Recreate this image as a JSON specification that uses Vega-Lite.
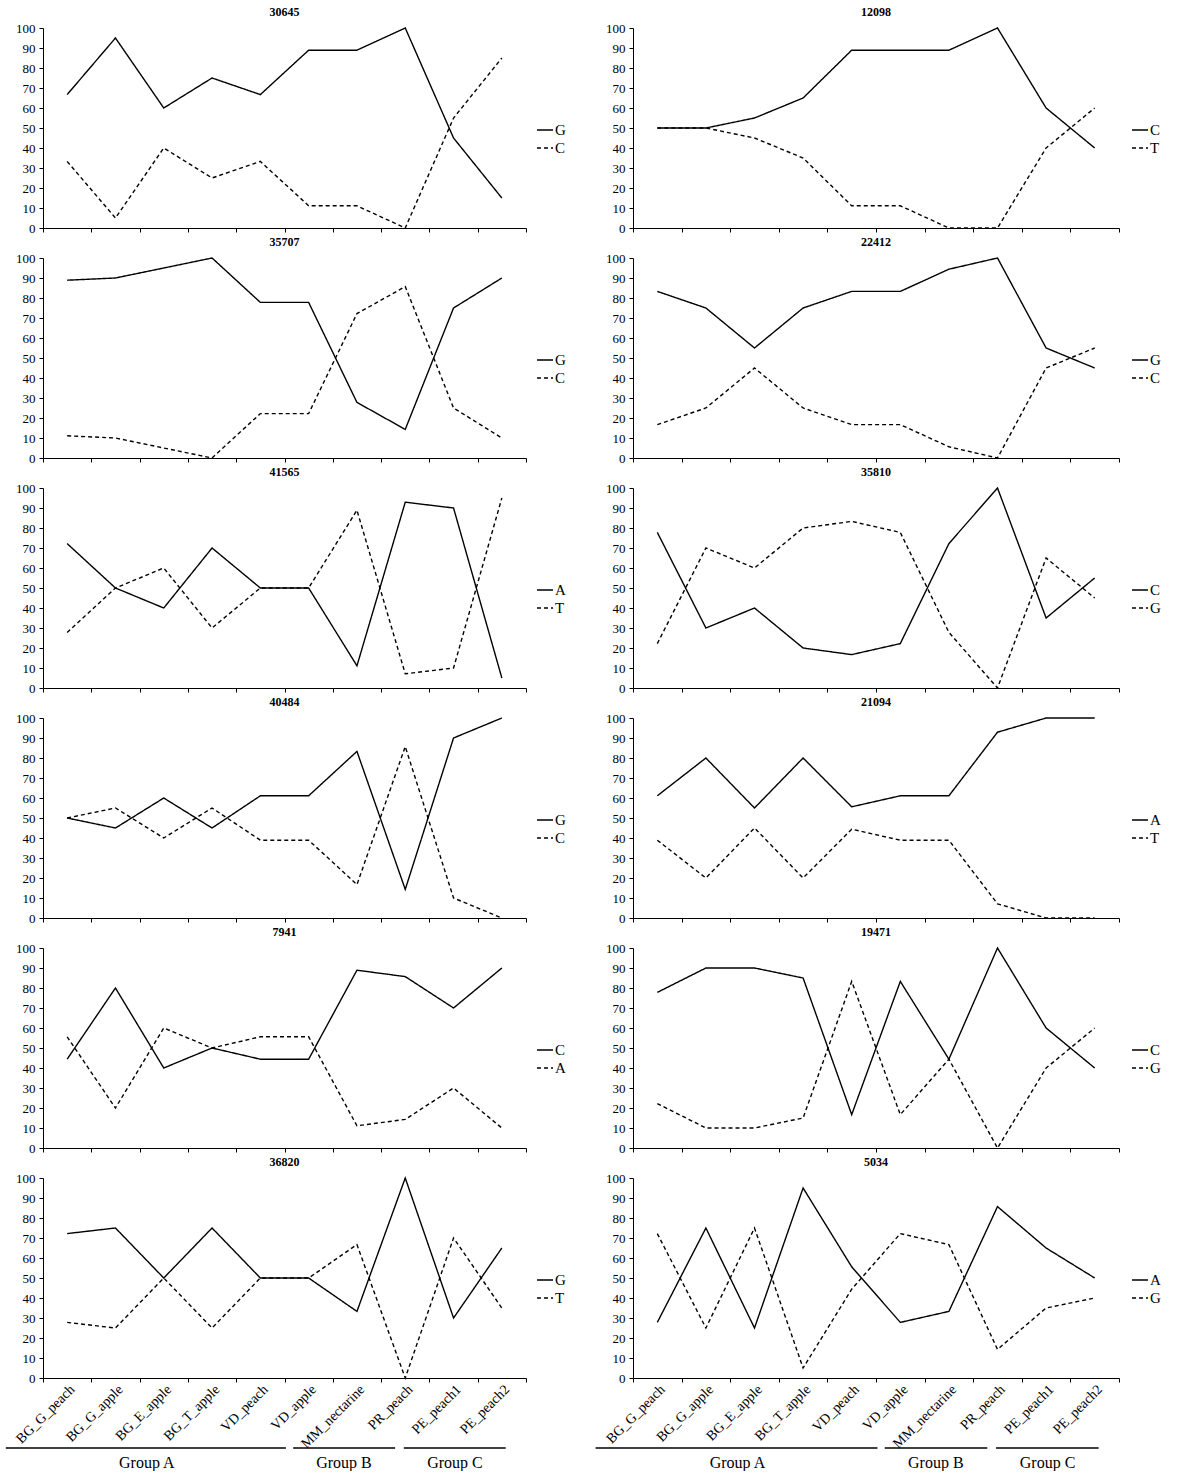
{
"$schema": "https://vega.github.io/schema/vega-lite/v6.json",
"background": "white",
"padding": {"left": 5, "top": 6, "right": 0, "bottom": 0},
"columns": 2,
"spacing": {"row": 1, "column": 28},
"config": {
  "view": {"stroke": null},
  "title": {"font": "Liberation Serif", "fontSize": 12, "fontWeight": "bold", "color": "black", "offset": 3},
  "axis": {"labelFont": "Liberation Serif", "labelFontSize": 13, "labelColor": "black", "domainColor": "black", "tickColor": "black", "tickSize": 4, "grid": false, "title": null, "domainWidth": 1, "tickWidth": 1},
  "axisY": {"labelPadding": 4},
  "legend": {"orient": "none", "legendY": 93, "title": null, "symbolType": "stroke", "symbolSize": 256, "symbolStrokeWidth": 1.4, "symbolStrokeColor": "black", "labelFont": "Liberation Serif", "labelFontSize": 15, "labelColor": "black", "labelOffset": 1, "rowPadding": 1, "padding": 0}
},
"resolve": {"scale": {"strokeDash": "independent"}, "legend": {"strokeDash": "independent"}},
"concat": [
{"title": "30645", "width": 483, "height": 200, "data": {"name": "m30645"}, "mark": {"type": "line", "color": "black", "strokeWidth": 1.4},
 "encoding": {"x": {"field": "sample", "type": "nominal", "sort": null, "scale": {"type": "band", "paddingInner": 0, "paddingOuter": 0}, "axis": {"labels": false, "tickBand": "extent"}},
  "y": {"field": "pct", "type": "quantitative", "scale": {"domain": [0, 100]}, "axis": {"values": [0,10,20,30,40,50,60,70,80,90,100]}},
  "strokeDash": {"field": "allele", "type": "nominal", "scale": {"domain": ["G", "C"], "range": [[1, 0], [4, 3]]}, "legend": {"legendX": 493}}}},
{"title": "12098", "width": 486, "height": 200, "data": {"name": "m12098"}, "mark": {"type": "line", "color": "black", "strokeWidth": 1.4},
 "encoding": {"x": {"field": "sample", "type": "nominal", "sort": null, "scale": {"type": "band", "paddingInner": 0, "paddingOuter": 0}, "axis": {"labels": false, "tickBand": "extent"}},
  "y": {"field": "pct", "type": "quantitative", "scale": {"domain": [0, 100]}, "axis": {"values": [0,10,20,30,40,50,60,70,80,90,100]}},
  "strokeDash": {"field": "allele", "type": "nominal", "scale": {"domain": ["C", "T"], "range": [[1, 0], [4, 3]]}, "legend": {"legendX": 498}}}},
{"title": "35707", "width": 483, "height": 200, "data": {"name": "m35707"}, "mark": {"type": "line", "color": "black", "strokeWidth": 1.4},
 "encoding": {"x": {"field": "sample", "type": "nominal", "sort": null, "scale": {"type": "band", "paddingInner": 0, "paddingOuter": 0}, "axis": {"labels": false, "tickBand": "extent"}},
  "y": {"field": "pct", "type": "quantitative", "scale": {"domain": [0, 100]}, "axis": {"values": [0,10,20,30,40,50,60,70,80,90,100]}},
  "strokeDash": {"field": "allele", "type": "nominal", "scale": {"domain": ["G", "C"], "range": [[1, 0], [4, 3]]}, "legend": {"legendX": 493}}}},
{"title": "22412", "width": 486, "height": 200, "data": {"name": "m22412"}, "mark": {"type": "line", "color": "black", "strokeWidth": 1.4},
 "encoding": {"x": {"field": "sample", "type": "nominal", "sort": null, "scale": {"type": "band", "paddingInner": 0, "paddingOuter": 0}, "axis": {"labels": false, "tickBand": "extent"}},
  "y": {"field": "pct", "type": "quantitative", "scale": {"domain": [0, 100]}, "axis": {"values": [0,10,20,30,40,50,60,70,80,90,100]}},
  "strokeDash": {"field": "allele", "type": "nominal", "scale": {"domain": ["G", "C"], "range": [[1, 0], [4, 3]]}, "legend": {"legendX": 498}}}},
{"title": "41565", "width": 483, "height": 200, "data": {"name": "m41565"}, "mark": {"type": "line", "color": "black", "strokeWidth": 1.4},
 "encoding": {"x": {"field": "sample", "type": "nominal", "sort": null, "scale": {"type": "band", "paddingInner": 0, "paddingOuter": 0}, "axis": {"labels": false, "tickBand": "extent"}},
  "y": {"field": "pct", "type": "quantitative", "scale": {"domain": [0, 100]}, "axis": {"values": [0,10,20,30,40,50,60,70,80,90,100]}},
  "strokeDash": {"field": "allele", "type": "nominal", "scale": {"domain": ["A", "T"], "range": [[1, 0], [4, 3]]}, "legend": {"legendX": 493}}}},
{"title": "35810", "width": 486, "height": 200, "data": {"name": "m35810"}, "mark": {"type": "line", "color": "black", "strokeWidth": 1.4},
 "encoding": {"x": {"field": "sample", "type": "nominal", "sort": null, "scale": {"type": "band", "paddingInner": 0, "paddingOuter": 0}, "axis": {"labels": false, "tickBand": "extent"}},
  "y": {"field": "pct", "type": "quantitative", "scale": {"domain": [0, 100]}, "axis": {"values": [0,10,20,30,40,50,60,70,80,90,100]}},
  "strokeDash": {"field": "allele", "type": "nominal", "scale": {"domain": ["C", "G"], "range": [[1, 0], [4, 3]]}, "legend": {"legendX": 498}}}},
{"title": "40484", "width": 483, "height": 200, "data": {"name": "m40484"}, "mark": {"type": "line", "color": "black", "strokeWidth": 1.4},
 "encoding": {"x": {"field": "sample", "type": "nominal", "sort": null, "scale": {"type": "band", "paddingInner": 0, "paddingOuter": 0}, "axis": {"labels": false, "tickBand": "extent"}},
  "y": {"field": "pct", "type": "quantitative", "scale": {"domain": [0, 100]}, "axis": {"values": [0,10,20,30,40,50,60,70,80,90,100]}},
  "strokeDash": {"field": "allele", "type": "nominal", "scale": {"domain": ["G", "C"], "range": [[1, 0], [4, 3]]}, "legend": {"legendX": 493}}}},
{"title": "21094", "width": 486, "height": 200, "data": {"name": "m21094"}, "mark": {"type": "line", "color": "black", "strokeWidth": 1.4},
 "encoding": {"x": {"field": "sample", "type": "nominal", "sort": null, "scale": {"type": "band", "paddingInner": 0, "paddingOuter": 0}, "axis": {"labels": false, "tickBand": "extent"}},
  "y": {"field": "pct", "type": "quantitative", "scale": {"domain": [0, 100]}, "axis": {"values": [0,10,20,30,40,50,60,70,80,90,100]}},
  "strokeDash": {"field": "allele", "type": "nominal", "scale": {"domain": ["A", "T"], "range": [[1, 0], [4, 3]]}, "legend": {"legendX": 498}}}},
{"title": "7941", "width": 483, "height": 200, "data": {"name": "m7941"}, "mark": {"type": "line", "color": "black", "strokeWidth": 1.4},
 "encoding": {"x": {"field": "sample", "type": "nominal", "sort": null, "scale": {"type": "band", "paddingInner": 0, "paddingOuter": 0}, "axis": {"labels": false, "tickBand": "extent"}},
  "y": {"field": "pct", "type": "quantitative", "scale": {"domain": [0, 100]}, "axis": {"values": [0,10,20,30,40,50,60,70,80,90,100]}},
  "strokeDash": {"field": "allele", "type": "nominal", "scale": {"domain": ["C", "A"], "range": [[1, 0], [4, 3]]}, "legend": {"legendX": 493}}}},
{"title": "19471", "width": 486, "height": 200, "data": {"name": "m19471"}, "mark": {"type": "line", "color": "black", "strokeWidth": 1.4},
 "encoding": {"x": {"field": "sample", "type": "nominal", "sort": null, "scale": {"type": "band", "paddingInner": 0, "paddingOuter": 0}, "axis": {"labels": false, "tickBand": "extent"}},
  "y": {"field": "pct", "type": "quantitative", "scale": {"domain": [0, 100]}, "axis": {"values": [0,10,20,30,40,50,60,70,80,90,100]}},
  "strokeDash": {"field": "allele", "type": "nominal", "scale": {"domain": ["C", "G"], "range": [[1, 0], [4, 3]]}, "legend": {"legendX": 498}}}},
{"title": "36820", "width": 483, "height": 200,
 "layer": [
  {"data": {"name": "m36820"}, "mark": {"type": "line", "color": "black", "strokeWidth": 1.4},
   "encoding": {"x": {"field": "sample", "type": "nominal", "sort": null, "scale": {"type": "band", "paddingInner": 0, "paddingOuter": 0}, "axis": {"tickBand": "extent", "labelAngle": -45, "labelFontSize": 14, "labelPadding": 0}},
    "y": {"field": "pct", "type": "quantitative", "scale": {"domain": [0, 100]}, "axis": {"values": [0,10,20,30,40,50,60,70,80,90,100]}},
    "strokeDash": {"field": "allele", "type": "nominal", "scale": {"domain": ["G", "T"], "range": [[1, 0], [4, 3]]}, "legend": {"legendX": 493}}}},
  {"data": {"name": "groups"}, "mark": {"type": "rule", "color": "black", "strokeWidth": 1.6},
   "encoding": {"x": {"field": "start", "type": "quantitative", "scale": {"domain": [0, 10]}, "axis": null}, "x2": {"field": "end"},
    "y": {"datum": -35, "type": "quantitative", "scale": {"domain": [0, 100]}, "axis": null}}},
  {"data": {"name": "groups"}, "mark": {"type": "text", "font": "Liberation Serif", "fontSize": 16, "baseline": "middle", "color": "black"},
   "encoding": {"x": {"field": "mid", "type": "quantitative", "scale": {"domain": [0, 10]}, "axis": null},
    "y": {"datum": -42.5, "type": "quantitative", "scale": {"domain": [0, 100]}, "axis": null}, "text": {"field": "group"}}}
 ],
 "resolve": {"scale": {"x": "independent", "y": "independent"}}},
{"title": "5034", "width": 486, "height": 200,
 "layer": [
  {"data": {"name": "m5034"}, "mark": {"type": "line", "color": "black", "strokeWidth": 1.4},
   "encoding": {"x": {"field": "sample", "type": "nominal", "sort": null, "scale": {"type": "band", "paddingInner": 0, "paddingOuter": 0}, "axis": {"tickBand": "extent", "labelAngle": -45, "labelFontSize": 14, "labelPadding": 0}},
    "y": {"field": "pct", "type": "quantitative", "scale": {"domain": [0, 100]}, "axis": {"values": [0,10,20,30,40,50,60,70,80,90,100]}},
    "strokeDash": {"field": "allele", "type": "nominal", "scale": {"domain": ["A", "G"], "range": [[1, 0], [4, 3]]}, "legend": {"legendX": 498}}}},
  {"data": {"name": "groups"}, "mark": {"type": "rule", "color": "black", "strokeWidth": 1.6},
   "encoding": {"x": {"field": "start", "type": "quantitative", "scale": {"domain": [0, 10]}, "axis": null}, "x2": {"field": "end"},
    "y": {"datum": -35, "type": "quantitative", "scale": {"domain": [0, 100]}, "axis": null}}},
  {"data": {"name": "groups"}, "mark": {"type": "text", "font": "Liberation Serif", "fontSize": 16, "baseline": "middle", "color": "black"},
   "encoding": {"x": {"field": "mid", "type": "quantitative", "scale": {"domain": [0, 10]}, "axis": null},
    "y": {"datum": -42.5, "type": "quantitative", "scale": {"domain": [0, 100]}, "axis": null}, "text": {"field": "group"}}}
 ],
 "resolve": {"scale": {"x": "independent", "y": "independent"}}}
],
"datasets": {
"groups": [
 {"group": "Group A", "start": -0.77, "end": 5.03, "mid": 2.15},
 {"group": "Group B", "start": 5.18, "end": 7.29, "mid": 6.23},
 {"group": "Group C", "start": 7.47, "end": 9.58, "mid": 8.53}
],
"m30645": [
 {"sample": "BG_G_peach", "allele": "G", "pct": 66.7}, {"sample": "BG_G_apple", "allele": "G", "pct": 95}, {"sample": "BG_E_apple", "allele": "G", "pct": 60}, {"sample": "BG_T_apple", "allele": "G", "pct": 75}, {"sample": "VD_peach", "allele": "G", "pct": 66.7}, {"sample": "VD_apple", "allele": "G", "pct": 88.9}, {"sample": "MM_nectarine", "allele": "G", "pct": 88.9}, {"sample": "PR_peach", "allele": "G", "pct": 100}, {"sample": "PE_peach1", "allele": "G", "pct": 45}, {"sample": "PE_peach2", "allele": "G", "pct": 15},
 {"sample": "BG_G_peach", "allele": "C", "pct": 33.3}, {"sample": "BG_G_apple", "allele": "C", "pct": 5}, {"sample": "BG_E_apple", "allele": "C", "pct": 40}, {"sample": "BG_T_apple", "allele": "C", "pct": 25}, {"sample": "VD_peach", "allele": "C", "pct": 33.3}, {"sample": "VD_apple", "allele": "C", "pct": 11.1}, {"sample": "MM_nectarine", "allele": "C", "pct": 11.1}, {"sample": "PR_peach", "allele": "C", "pct": 0}, {"sample": "PE_peach1", "allele": "C", "pct": 55}, {"sample": "PE_peach2", "allele": "C", "pct": 85}
],
"m12098": [
 {"sample": "BG_G_peach", "allele": "C", "pct": 50}, {"sample": "BG_G_apple", "allele": "C", "pct": 50}, {"sample": "BG_E_apple", "allele": "C", "pct": 55}, {"sample": "BG_T_apple", "allele": "C", "pct": 65}, {"sample": "VD_peach", "allele": "C", "pct": 88.9}, {"sample": "VD_apple", "allele": "C", "pct": 88.9}, {"sample": "MM_nectarine", "allele": "C", "pct": 88.9}, {"sample": "PR_peach", "allele": "C", "pct": 100}, {"sample": "PE_peach1", "allele": "C", "pct": 60}, {"sample": "PE_peach2", "allele": "C", "pct": 40},
 {"sample": "BG_G_peach", "allele": "T", "pct": 50}, {"sample": "BG_G_apple", "allele": "T", "pct": 50}, {"sample": "BG_E_apple", "allele": "T", "pct": 45}, {"sample": "BG_T_apple", "allele": "T", "pct": 35}, {"sample": "VD_peach", "allele": "T", "pct": 11.1}, {"sample": "VD_apple", "allele": "T", "pct": 11.1}, {"sample": "MM_nectarine", "allele": "T", "pct": 0}, {"sample": "PR_peach", "allele": "T", "pct": 0}, {"sample": "PE_peach1", "allele": "T", "pct": 40}, {"sample": "PE_peach2", "allele": "T", "pct": 60}
],
"m35707": [
 {"sample": "BG_G_peach", "allele": "G", "pct": 88.9}, {"sample": "BG_G_apple", "allele": "G", "pct": 90}, {"sample": "BG_E_apple", "allele": "G", "pct": 95}, {"sample": "BG_T_apple", "allele": "G", "pct": 100}, {"sample": "VD_peach", "allele": "G", "pct": 77.8}, {"sample": "VD_apple", "allele": "G", "pct": 77.8}, {"sample": "MM_nectarine", "allele": "G", "pct": 27.8}, {"sample": "PR_peach", "allele": "G", "pct": 14.3}, {"sample": "PE_peach1", "allele": "G", "pct": 75}, {"sample": "PE_peach2", "allele": "G", "pct": 90},
 {"sample": "BG_G_peach", "allele": "C", "pct": 11.1}, {"sample": "BG_G_apple", "allele": "C", "pct": 10}, {"sample": "BG_E_apple", "allele": "C", "pct": 5}, {"sample": "BG_T_apple", "allele": "C", "pct": 0}, {"sample": "VD_peach", "allele": "C", "pct": 22.2}, {"sample": "VD_apple", "allele": "C", "pct": 22.2}, {"sample": "MM_nectarine", "allele": "C", "pct": 72.2}, {"sample": "PR_peach", "allele": "C", "pct": 85.7}, {"sample": "PE_peach1", "allele": "C", "pct": 25}, {"sample": "PE_peach2", "allele": "C", "pct": 10}
],
"m22412": [
 {"sample": "BG_G_peach", "allele": "G", "pct": 83.3}, {"sample": "BG_G_apple", "allele": "G", "pct": 75}, {"sample": "BG_E_apple", "allele": "G", "pct": 55}, {"sample": "BG_T_apple", "allele": "G", "pct": 75}, {"sample": "VD_peach", "allele": "G", "pct": 83.3}, {"sample": "VD_apple", "allele": "G", "pct": 83.3}, {"sample": "MM_nectarine", "allele": "G", "pct": 94.4}, {"sample": "PR_peach", "allele": "G", "pct": 100}, {"sample": "PE_peach1", "allele": "G", "pct": 55}, {"sample": "PE_peach2", "allele": "G", "pct": 45},
 {"sample": "BG_G_peach", "allele": "C", "pct": 16.7}, {"sample": "BG_G_apple", "allele": "C", "pct": 25}, {"sample": "BG_E_apple", "allele": "C", "pct": 45}, {"sample": "BG_T_apple", "allele": "C", "pct": 25}, {"sample": "VD_peach", "allele": "C", "pct": 16.7}, {"sample": "VD_apple", "allele": "C", "pct": 16.7}, {"sample": "MM_nectarine", "allele": "C", "pct": 5.6}, {"sample": "PR_peach", "allele": "C", "pct": 0}, {"sample": "PE_peach1", "allele": "C", "pct": 45}, {"sample": "PE_peach2", "allele": "C", "pct": 55}
],
"m41565": [
 {"sample": "BG_G_peach", "allele": "A", "pct": 72.2}, {"sample": "BG_G_apple", "allele": "A", "pct": 50}, {"sample": "BG_E_apple", "allele": "A", "pct": 40}, {"sample": "BG_T_apple", "allele": "A", "pct": 70}, {"sample": "VD_peach", "allele": "A", "pct": 50}, {"sample": "VD_apple", "allele": "A", "pct": 50}, {"sample": "MM_nectarine", "allele": "A", "pct": 11.1}, {"sample": "PR_peach", "allele": "A", "pct": 92.9}, {"sample": "PE_peach1", "allele": "A", "pct": 90}, {"sample": "PE_peach2", "allele": "A", "pct": 5},
 {"sample": "BG_G_peach", "allele": "T", "pct": 27.8}, {"sample": "BG_G_apple", "allele": "T", "pct": 50}, {"sample": "BG_E_apple", "allele": "T", "pct": 60}, {"sample": "BG_T_apple", "allele": "T", "pct": 30}, {"sample": "VD_peach", "allele": "T", "pct": 50}, {"sample": "VD_apple", "allele": "T", "pct": 50}, {"sample": "MM_nectarine", "allele": "T", "pct": 88.9}, {"sample": "PR_peach", "allele": "T", "pct": 7.1}, {"sample": "PE_peach1", "allele": "T", "pct": 10}, {"sample": "PE_peach2", "allele": "T", "pct": 95}
],
"m35810": [
 {"sample": "BG_G_peach", "allele": "C", "pct": 77.8}, {"sample": "BG_G_apple", "allele": "C", "pct": 30}, {"sample": "BG_E_apple", "allele": "C", "pct": 40}, {"sample": "BG_T_apple", "allele": "C", "pct": 20}, {"sample": "VD_peach", "allele": "C", "pct": 16.7}, {"sample": "VD_apple", "allele": "C", "pct": 22.2}, {"sample": "MM_nectarine", "allele": "C", "pct": 72.2}, {"sample": "PR_peach", "allele": "C", "pct": 100}, {"sample": "PE_peach1", "allele": "C", "pct": 35}, {"sample": "PE_peach2", "allele": "C", "pct": 55},
 {"sample": "BG_G_peach", "allele": "G", "pct": 22.2}, {"sample": "BG_G_apple", "allele": "G", "pct": 70}, {"sample": "BG_E_apple", "allele": "G", "pct": 60}, {"sample": "BG_T_apple", "allele": "G", "pct": 80}, {"sample": "VD_peach", "allele": "G", "pct": 83.3}, {"sample": "VD_apple", "allele": "G", "pct": 77.8}, {"sample": "MM_nectarine", "allele": "G", "pct": 27.8}, {"sample": "PR_peach", "allele": "G", "pct": 0}, {"sample": "PE_peach1", "allele": "G", "pct": 65}, {"sample": "PE_peach2", "allele": "G", "pct": 45}
],
"m40484": [
 {"sample": "BG_G_peach", "allele": "G", "pct": 50}, {"sample": "BG_G_apple", "allele": "G", "pct": 45}, {"sample": "BG_E_apple", "allele": "G", "pct": 60}, {"sample": "BG_T_apple", "allele": "G", "pct": 45}, {"sample": "VD_peach", "allele": "G", "pct": 61.1}, {"sample": "VD_apple", "allele": "G", "pct": 61.1}, {"sample": "MM_nectarine", "allele": "G", "pct": 83.3}, {"sample": "PR_peach", "allele": "G", "pct": 14.3}, {"sample": "PE_peach1", "allele": "G", "pct": 90}, {"sample": "PE_peach2", "allele": "G", "pct": 100},
 {"sample": "BG_G_peach", "allele": "C", "pct": 50}, {"sample": "BG_G_apple", "allele": "C", "pct": 55}, {"sample": "BG_E_apple", "allele": "C", "pct": 40}, {"sample": "BG_T_apple", "allele": "C", "pct": 55}, {"sample": "VD_peach", "allele": "C", "pct": 38.9}, {"sample": "VD_apple", "allele": "C", "pct": 38.9}, {"sample": "MM_nectarine", "allele": "C", "pct": 16.7}, {"sample": "PR_peach", "allele": "C", "pct": 85.7}, {"sample": "PE_peach1", "allele": "C", "pct": 10}, {"sample": "PE_peach2", "allele": "C", "pct": 0}
],
"m21094": [
 {"sample": "BG_G_peach", "allele": "A", "pct": 61.1}, {"sample": "BG_G_apple", "allele": "A", "pct": 80}, {"sample": "BG_E_apple", "allele": "A", "pct": 55}, {"sample": "BG_T_apple", "allele": "A", "pct": 80}, {"sample": "VD_peach", "allele": "A", "pct": 55.6}, {"sample": "VD_apple", "allele": "A", "pct": 61.1}, {"sample": "MM_nectarine", "allele": "A", "pct": 61.1}, {"sample": "PR_peach", "allele": "A", "pct": 92.9}, {"sample": "PE_peach1", "allele": "A", "pct": 100}, {"sample": "PE_peach2", "allele": "A", "pct": 100},
 {"sample": "BG_G_peach", "allele": "T", "pct": 38.9}, {"sample": "BG_G_apple", "allele": "T", "pct": 20}, {"sample": "BG_E_apple", "allele": "T", "pct": 45}, {"sample": "BG_T_apple", "allele": "T", "pct": 20}, {"sample": "VD_peach", "allele": "T", "pct": 44.4}, {"sample": "VD_apple", "allele": "T", "pct": 38.9}, {"sample": "MM_nectarine", "allele": "T", "pct": 38.9}, {"sample": "PR_peach", "allele": "T", "pct": 7.1}, {"sample": "PE_peach1", "allele": "T", "pct": 0}, {"sample": "PE_peach2", "allele": "T", "pct": 0}
],
"m7941": [
 {"sample": "BG_G_peach", "allele": "C", "pct": 44.4}, {"sample": "BG_G_apple", "allele": "C", "pct": 80}, {"sample": "BG_E_apple", "allele": "C", "pct": 40}, {"sample": "BG_T_apple", "allele": "C", "pct": 50}, {"sample": "VD_peach", "allele": "C", "pct": 44.4}, {"sample": "VD_apple", "allele": "C", "pct": 44.4}, {"sample": "MM_nectarine", "allele": "C", "pct": 88.9}, {"sample": "PR_peach", "allele": "C", "pct": 85.7}, {"sample": "PE_peach1", "allele": "C", "pct": 70}, {"sample": "PE_peach2", "allele": "C", "pct": 90},
 {"sample": "BG_G_peach", "allele": "A", "pct": 55.6}, {"sample": "BG_G_apple", "allele": "A", "pct": 20}, {"sample": "BG_E_apple", "allele": "A", "pct": 60}, {"sample": "BG_T_apple", "allele": "A", "pct": 50}, {"sample": "VD_peach", "allele": "A", "pct": 55.6}, {"sample": "VD_apple", "allele": "A", "pct": 55.6}, {"sample": "MM_nectarine", "allele": "A", "pct": 11.1}, {"sample": "PR_peach", "allele": "A", "pct": 14.3}, {"sample": "PE_peach1", "allele": "A", "pct": 30}, {"sample": "PE_peach2", "allele": "A", "pct": 10}
],
"m19471": [
 {"sample": "BG_G_peach", "allele": "C", "pct": 77.8}, {"sample": "BG_G_apple", "allele": "C", "pct": 90}, {"sample": "BG_E_apple", "allele": "C", "pct": 90}, {"sample": "BG_T_apple", "allele": "C", "pct": 85}, {"sample": "VD_peach", "allele": "C", "pct": 16.7}, {"sample": "VD_apple", "allele": "C", "pct": 83.3}, {"sample": "MM_nectarine", "allele": "C", "pct": 44.4}, {"sample": "PR_peach", "allele": "C", "pct": 100}, {"sample": "PE_peach1", "allele": "C", "pct": 60}, {"sample": "PE_peach2", "allele": "C", "pct": 40},
 {"sample": "BG_G_peach", "allele": "G", "pct": 22.2}, {"sample": "BG_G_apple", "allele": "G", "pct": 10}, {"sample": "BG_E_apple", "allele": "G", "pct": 10}, {"sample": "BG_T_apple", "allele": "G", "pct": 15}, {"sample": "VD_peach", "allele": "G", "pct": 83.3}, {"sample": "VD_apple", "allele": "G", "pct": 16.7}, {"sample": "MM_nectarine", "allele": "G", "pct": 44.4}, {"sample": "PR_peach", "allele": "G", "pct": 0}, {"sample": "PE_peach1", "allele": "G", "pct": 40}, {"sample": "PE_peach2", "allele": "G", "pct": 60}
],
"m36820": [
 {"sample": "BG_G_peach", "allele": "G", "pct": 72.2}, {"sample": "BG_G_apple", "allele": "G", "pct": 75}, {"sample": "BG_E_apple", "allele": "G", "pct": 50}, {"sample": "BG_T_apple", "allele": "G", "pct": 75}, {"sample": "VD_peach", "allele": "G", "pct": 50}, {"sample": "VD_apple", "allele": "G", "pct": 50}, {"sample": "MM_nectarine", "allele": "G", "pct": 33.3}, {"sample": "PR_peach", "allele": "G", "pct": 100}, {"sample": "PE_peach1", "allele": "G", "pct": 30}, {"sample": "PE_peach2", "allele": "G", "pct": 65},
 {"sample": "BG_G_peach", "allele": "T", "pct": 27.8}, {"sample": "BG_G_apple", "allele": "T", "pct": 25}, {"sample": "BG_E_apple", "allele": "T", "pct": 50}, {"sample": "BG_T_apple", "allele": "T", "pct": 25}, {"sample": "VD_peach", "allele": "T", "pct": 50}, {"sample": "VD_apple", "allele": "T", "pct": 50}, {"sample": "MM_nectarine", "allele": "T", "pct": 66.7}, {"sample": "PR_peach", "allele": "T", "pct": 0}, {"sample": "PE_peach1", "allele": "T", "pct": 70}, {"sample": "PE_peach2", "allele": "T", "pct": 35}
],
"m5034": [
 {"sample": "BG_G_peach", "allele": "A", "pct": 27.8}, {"sample": "BG_G_apple", "allele": "A", "pct": 75}, {"sample": "BG_E_apple", "allele": "A", "pct": 25}, {"sample": "BG_T_apple", "allele": "A", "pct": 95}, {"sample": "VD_peach", "allele": "A", "pct": 55.6}, {"sample": "VD_apple", "allele": "A", "pct": 27.8}, {"sample": "MM_nectarine", "allele": "A", "pct": 33.3}, {"sample": "PR_peach", "allele": "A", "pct": 85.7}, {"sample": "PE_peach1", "allele": "A", "pct": 65}, {"sample": "PE_peach2", "allele": "A", "pct": 50},
 {"sample": "BG_G_peach", "allele": "G", "pct": 72.2}, {"sample": "BG_G_apple", "allele": "G", "pct": 25}, {"sample": "BG_E_apple", "allele": "G", "pct": 75}, {"sample": "BG_T_apple", "allele": "G", "pct": 5}, {"sample": "VD_peach", "allele": "G", "pct": 44.4}, {"sample": "VD_apple", "allele": "G", "pct": 72.2}, {"sample": "MM_nectarine", "allele": "G", "pct": 66.7}, {"sample": "PR_peach", "allele": "G", "pct": 14.3}, {"sample": "PE_peach1", "allele": "G", "pct": 35}, {"sample": "PE_peach2", "allele": "G", "pct": 40}
]
}
}
